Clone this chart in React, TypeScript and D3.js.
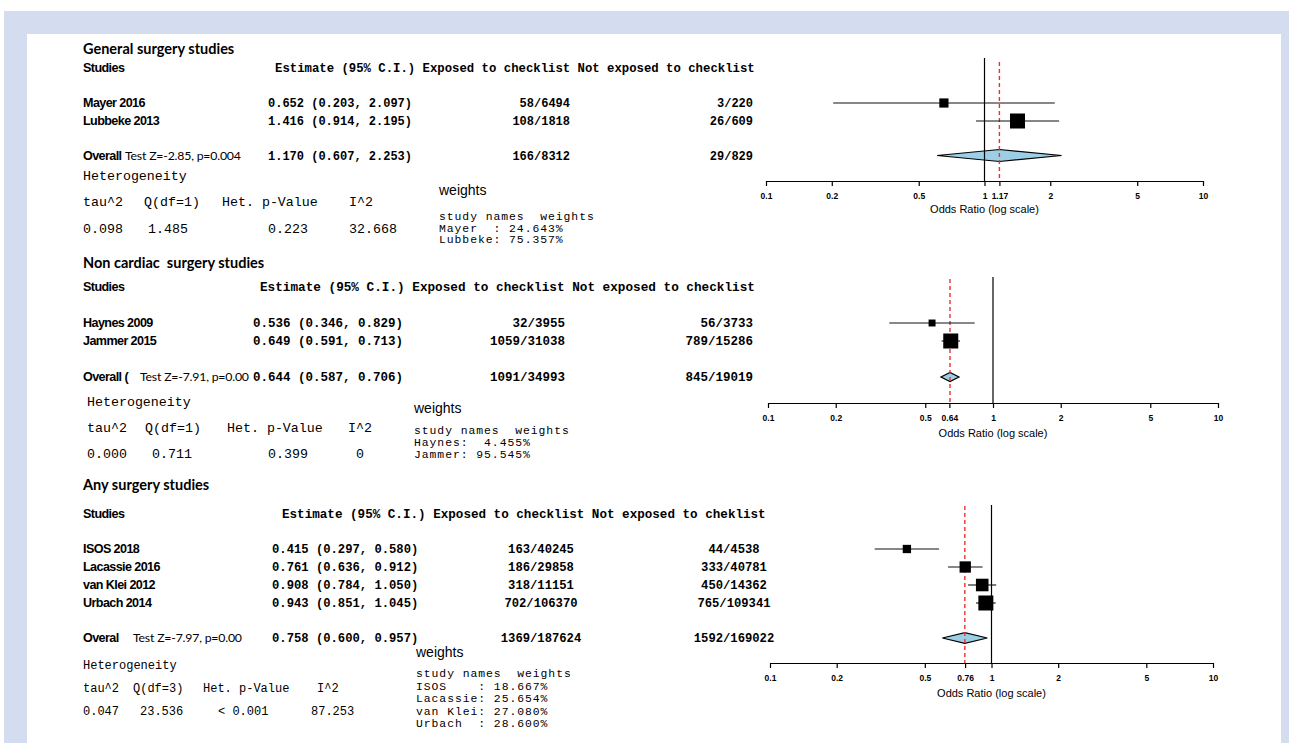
import React, { useRef, useEffect } from 'react';
import * as d3 from 'd3';

// General surgery studies
const generalStudies = ['Mayer 2016', 'Lubbeke 2013'];
const generalOR = [0.652, 1.416];
const generalLower = [0.203, 0.914];
const generalUpper = [2.097, 2.195];
const generalExposed = ['58/6494', '108/1818'];
const generalNotExposed = ['3/220', '26/609'];
const generalSummary = [1.17, 0.607, 2.253];
const generalSummaryCounts = ['166/8312', '29/829'];
const generalTest = 'Test Z=-2.85, p=0.004';
const generalHet = ['0.098', '1.485', '0.223', '32.668'];
const generalWeights = ['Mayer  : 24.643%', 'Lubbeke: 75.357%'];
const generalTicks = [0.1, 0.2, 0.5, 1, 1.17, 2, 5, 10];

// Non cardiac surgery studies
const nonCardiacStudies = ['Haynes 2009', 'Jammer 2015'];
const nonCardiacOR = [0.536, 0.649];
const nonCardiacLower = [0.346, 0.591];
const nonCardiacUpper = [0.829, 0.713];
const nonCardiacExposed = ['32/3955', '1059/31038'];
const nonCardiacNotExposed = ['56/3733', '789/15286'];
const nonCardiacSummary = [0.644, 0.587, 0.706];
const nonCardiacSummaryCounts = ['1091/34993', '845/19019'];
const nonCardiacTest = 'Test Z=-7.91, p=0.00';
const nonCardiacHet = ['0.000', '0.711', '0.399', '0'];
const nonCardiacWeights = ['Haynes:  4.455%', 'Jammer: 95.545%'];
const nonCardiacTicks = [0.1, 0.2, 0.5, 0.64, 1, 2, 5, 10];

// Any surgery studies
const anyStudies = ['ISOS 2018', 'Lacassie 2016', 'van Klei 2012', 'Urbach 2014'];
const anyOR = [0.415, 0.761, 0.908, 0.943];
const anyLower = [0.297, 0.636, 0.784, 0.851];
const anyUpper = [0.58, 0.912, 1.05, 1.045];
const anyExposed = ['163/40245', '186/29858', '318/11151', '702/106370'];
const anyNotExposed = ['44/4538', '333/40781', '450/14362', '765/109341'];
const anySummary = [0.758, 0.6, 0.957];
const anySummaryCounts = ['1369/187624', '1592/169022'];
const anyTest = 'Test Z=-7.97, p=0.00';
const anyHet = ['0.047', '23.536', '< 0.001', '87.253'];
const anyWeights = ['ISOS    : 18.667%', 'Lacassie: 25.654%', 'van Klei: 27.080%', 'Urbach  : 28.600%'];
const anyTicks = [0.1, 0.2, 0.5, 0.76, 1, 2, 5, 10];

const panels = [
  {
    title: 'General surgery studies', overallLabel: 'Overall',
    notHeader: 'Not exposed to checklist', df: 1,
    studies: generalStudies, or: generalOR, lower: generalLower, upper: generalUpper,
    exposed: generalExposed, notExposed: generalNotExposed, summary: generalSummary,
    summaryCounts: generalSummaryCounts, test: generalTest, het: generalHet,
    weights: generalWeights, ticks: generalTicks,
    L: {
      titleY: 49, headerY: 68, rowY0: 103, rowStep: 18, overallY: 155.5,
      headerX: 275, headerSize: 12.3, estX: 268, estSize: 12,
      expX: 570, notX: 753, countAnchor: 'end', testX: 125,
      hetX0: 83, hetTitleY: 175, hetLabelY: 201.5, hetValY: 228, hetSize: 13.3,
      hetLabelX: [83, 144, 222, 349], hetValX: [83, 148, 268, 349],
      wX: 439, wTitleY: 190, wY0: 216, wStep: 11.6,
      x0: 766, x1: 1203, axisY: 181, lineTop: 58, dashTop: 62, tickLabelY: 197, axisTitleY: 209, diamondH: 6,
    },
  },
  {
    title: 'Non cardiac  surgery studies', overallLabel: 'Overall (',
    notHeader: 'Not exposed to checklist', df: 1,
    studies: nonCardiacStudies, or: nonCardiacOR, lower: nonCardiacLower, upper: nonCardiacUpper,
    exposed: nonCardiacExposed, notExposed: nonCardiacNotExposed, summary: nonCardiacSummary,
    summaryCounts: nonCardiacSummaryCounts, test: nonCardiacTest, het: nonCardiacHet,
    weights: nonCardiacWeights, ticks: nonCardiacTicks,
    L: {
      titleY: 263, headerY: 286.5, rowY0: 323, rowStep: 18, overallY: 377,
      headerX: 260, headerSize: 12.7, estX: 253, estSize: 12.5,
      expX: 565, notX: 753, countAnchor: 'end', testX: 140,
      hetX0: 87, hetTitleY: 401, hetLabelY: 427, hetValY: 453, hetSize: 13.3,
      hetLabelX: [87, 145, 227, 348], hetValX: [87, 152, 268, 356],
      wX: 414, wTitleY: 408, wY0: 430, wStep: 12,
      x0: 768, x1: 1218, axisY: 403, lineTop: 277, dashTop: 279, tickLabelY: 420, axisTitleY: 433, diamondH: 4.5,
    },
  },
  {
    title: 'Any surgery studies', overallLabel: 'Overal',
    notHeader: 'Not exposed to cheklist', df: 3,
    studies: anyStudies, or: anyOR, lower: anyLower, upper: anyUpper,
    exposed: anyExposed, notExposed: anyNotExposed, summary: anySummary,
    summaryCounts: anySummaryCounts, test: anyTest, het: anyHet,
    weights: anyWeights, ticks: anyTicks,
    L: {
      titleY: 485, headerY: 513.5, rowY0: 549, rowStep: 18, overallY: 638,
      headerX: 282, headerSize: 12.6, estX: 272, estSize: 12.2,
      expX: 541, notX: 734, countAnchor: 'middle', testX: 133,
      hetX0: 83, hetTitleY: 665, hetLabelY: 688, hetValY: 711, hetSize: 12,
      hetLabelX: [83, 133, 203, 317], hetValX: [83, 140, 218, 311],
      wX: 416, wTitleY: 652, wY0: 673.5, wStep: 12.4,
      x0: 770, x1: 1213, axisY: 663, lineTop: 505, dashTop: 506, tickLabelY: 681, axisTitleY: 693, diamondH: 5.3,
    },
  },
];

const MONO = "'Liberation Mono', 'DejaVu Sans Mono', monospace";
const SANS = "'Liberation Sans', Arial, sans-serif";
const TITLE = "Lato, 'Open Sans', sans-serif";

const est = (o, l, u) => `${o.toFixed(3)} (${l.toFixed(3)}, ${u.toFixed(3)})`;

function drawPanel(svg, p) {
  const L = p.L;
  const g = svg.append('g');
  const txt = (x, y, s, font, size, weight = 'normal', anchor = 'start') =>
    g.append('text')
      .attr('x', x).attr('y', y)
      .attr('dy', '0.35em')
      .attr('text-anchor', anchor)
      .style('font-family', font)
      .style('font-size', size + 'px')
      .style('font-weight', weight)
      .style('white-space', 'pre')
      .attr('fill', '#000')
      .text(s);
  const narrow = (x, y, s) => txt(x, y, s, SANS, 12.6, 'bold').style('letter-spacing', '-0.6px');

  // left side table
  txt(83, L.titleY, p.title, TITLE, 14.5, 'bold');
  narrow(83, L.headerY, 'Studies');
  txt(L.headerX, L.headerY, `Estimate (95% C.I.) Exposed to checklist ${p.notHeader}`, MONO, L.headerSize, 'bold');

  const rowY = d3.scaleLinear().domain([0, 1]).range([L.rowY0, L.rowY0 + L.rowStep]);

  p.studies.forEach((s, i) => {
    const yy = rowY(i);
    narrow(83, yy, s);
    txt(L.estX, yy, est(p.or[i], p.lower[i], p.upper[i]), MONO, L.estSize, 'bold');
    txt(L.expX, yy, p.exposed[i], MONO, L.estSize, 'bold', L.countAnchor);
    txt(L.notX, yy, p.notExposed[i], MONO, L.estSize, 'bold', L.countAnchor);
  });

  const [so, sl, su] = p.summary;
  narrow(83, L.overallY, p.overallLabel);
  txt(L.testX, L.overallY, p.test, TITLE, 12.3).style('letter-spacing', '-0.2px');
  txt(L.estX, L.overallY, est(so, sl, su), MONO, L.estSize, 'bold');
  txt(L.expX, L.overallY, p.summaryCounts[0], MONO, L.estSize, 'bold', L.countAnchor);
  txt(L.notX, L.overallY, p.summaryCounts[1], MONO, L.estSize, 'bold', L.countAnchor);

  // heterogeneity
  txt(L.hetX0, L.hetTitleY, 'Heterogeneity', MONO, L.hetSize);
  const hetLabels = ['tau^2', `Q(df=${p.df})`, 'Het. p-Value', 'I^2'];
  hetLabels.forEach((h, i) => txt(L.hetLabelX[i], L.hetLabelY, h, MONO, L.hetSize));
  p.het.forEach((h, i) => txt(L.hetValX[i], L.hetValY, h, MONO, L.hetSize));

  // weights
  txt(L.wX, L.wTitleY, 'weights', SANS, 14);
  const wText = (y, s) => txt(L.wX, y, s, MONO, 11.4).style('letter-spacing', '0.95px');
  wText(L.wY0, 'study names  weights');
  p.weights.forEach((w, i) => wText(L.wY0 + (i + 1) * L.wStep, w));

  // forest plot
  const x = d3.scaleLog().domain([0.1, 10]).range([L.x0, L.x1]);

  const dPts = [[x(sl), L.overallY], [x(so), L.overallY - L.diamondH], [x(su), L.overallY], [x(so), L.overallY + L.diamondH]];
  g.append('path')
    .attr('d', d3.line()(dPts) + 'Z')
    .attr('fill', '#9ccfe6')
    .attr('stroke', '#000').attr('stroke-width', 1.2);

  g.append('line')
    .attr('x1', x(1)).attr('x2', x(1))
    .attr('y1', L.lineTop).attr('y2', L.axisY)
    .attr('stroke', '#000').attr('stroke-width', 1.2);

  g.append('line')
    .attr('x1', x(so)).attr('x2', x(so))
    .attr('y1', L.dashTop).attr('y2', L.axisY)
    .attr('stroke', '#f03030').attr('stroke-width', 1.4)
    .attr('stroke-dasharray', '4,3');

  const info = p.lower.map((l, i) => 1 / (Math.log(p.upper[i]) - Math.log(l)));
  const box = d3.scaleSqrt().domain([0, d3.max(info)]).range([0, 15]);

  p.studies.forEach((s, i) => {
    const yy = rowY(i);
    g.append('line')
      .attr('x1', x(p.lower[i])).attr('x2', x(p.upper[i]))
      .attr('y1', yy).attr('y2', yy)
      .attr('stroke', '#111').attr('stroke-width', 1.1);
    const b = box(info[i]);
    g.append('rect')
      .attr('x', x(p.or[i]) - b / 2).attr('y', yy - b / 2)
      .attr('width', b).attr('height', b)
      .attr('fill', '#000');
  });

  const axis = d3.axisBottom(x)
    .tickValues(p.ticks)
    .tickFormat((d) => String(d))
    .tickSize(5)
    .tickSizeOuter(0)
    .tickPadding(7);
  const ax = g.append('g').attr('transform', `translate(0,${L.axisY})`).call(axis);
  ax.select('.domain').attr('stroke', '#000').attr('stroke-width', 1.2);
  ax.selectAll('.tick line').attr('stroke', '#000').attr('stroke-width', 1.2);
  ax.selectAll('.tick text')
    .attr('fill', '#000')
    .style('font-family', SANS)
    .style('font-size', '8.5px')
    .style('font-weight', 'bold');

  g.append('text')
    .attr('x', x(1)).attr('y', L.axisTitleY).attr('dy', '0.35em')
    .attr('text-anchor', 'middle')
    .style('font-family', SANS).style('font-size', '11px')
    .text('Odds Ratio (log scale)');
}

export default function App() {
  const svgRef = useRef(null);

  useEffect(() => {
    const w = 1289;
    const h = 747;
    const svg = d3.select(svgRef.current);
    svg.selectAll('*').remove();
    svg.attr('width', w).attr('height', h);

    svg.append('rect').attr('width', w).attr('height', h).attr('fill', '#fff');
    svg.append('rect').attr('x', 4).attr('y', 11).attr('width', w - 4).attr('height', 732).attr('fill', '#d4ddf0');
    svg.append('rect').attr('x', 27).attr('y', 34).attr('width', 1254).attr('height', 709).attr('fill', '#fff');

    panels.forEach((p) => drawPanel(svg, p));
  }, []);

  return <svg ref={svgRef} style={{ position: 'absolute', left: 0, top: 0 }}></svg>;
}
